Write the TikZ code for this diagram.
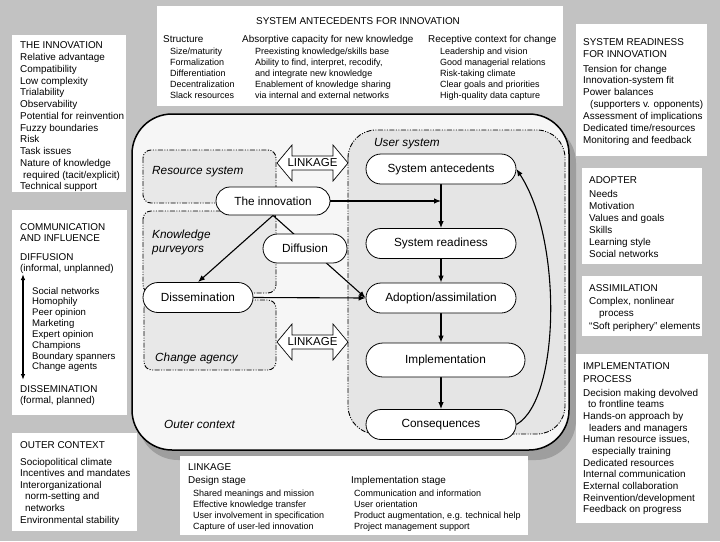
\documentclass[tikz,border=0pt]{standalone}
\usepackage{fontspec}
\setmainfont{Liberation Sans}
\usetikzlibrary{arrows.meta,shapes.misc}
\pgfdeclarelayer{back}
\pgfdeclarelayer{mid}
\pgfsetlayers{back,mid,main}
\definecolor{bgc}{gray}{0.76}
\definecolor{shc}{gray}{0.62}
\definecolor{outc}{gray}{0.965}
\definecolor{usrc}{gray}{0.9}
\definecolor{resc}{gray}{0.91}
\newcommand{\txtlines}[5]{\foreach \t [count=\i] in {#5}{\node[lbl] (#1\i) at (#2,{#3+(\i-1)*#4}) {\t};}}
\newcommand{\linkarrow}[2]{%
 \draw[dbl] (277,#1) -- (292,{#1-18}) -- (292,{#1-7}) -- (333,{#1-7}) -- (333,{#1-18}) -- (348,#1) -- (333,{#1+18}) -- (333,{#1+7}) -- (292,{#1+7}) -- (292,{#1+18}) -- cycle;
 \node[font=\fontsize{11.5}{13}\selectfont, inner sep=0pt] (#2) at (312.5,#1) {LINKAGE};}
\begin{document}
\begin{tikzpicture}[x=1pt,y=-1pt,
  lbl/.style={anchor=base west, inner sep=0pt},
  pill/.style={rounded rectangle, draw, line width=0.8pt, fill=white, minimum height=30pt, minimum width=150pt, inner sep=0pt, font=\fontsize{11.8}{14}\selectfont},
  arr/.style={line width=1.1pt, -{Latex[length=7pt,width=5.5pt]}},
  dashdot/.style={line width=0.9pt, dash pattern=on 5pt off 1.5pt on 1pt off 1.5pt on 1pt off 1.5pt},
  ital/.style={anchor=base west, inner sep=0pt, font=\fontsize{11.8}{14}\selectfont\itshape},
  bigtxt/.style={font=\fontsize{9.9}{11.8}\selectfont},
  smalltxt/.style={font=\fontsize{9}{11}\selectfont},
  dbl/.style={draw, fill=white, line width=0.7pt},
]
\begin{pgfonlayer}{back}
\fill[bgc] (0,0) rectangle (720,541);
% outer context frame
\fill[shc, rounded corners=40pt] (138,123) rectangle (576,460);
\draw[line width=1.5pt, fill=outc, rounded corners=40pt] (132,114) rectangle (569,450);
\draw[dashdot, fill=usrc, rounded corners=28pt] (348,130) rectangle (565,434);
\draw[dashdot, fill=resc, rounded corners=8pt] (143,150) rectangle (276,203);
\draw[dashdot, fill=resc, rounded corners=8pt] (143,211) rectangle (276,293);
\draw[dashdot, fill=resc, rounded corners=8pt] (144,300) rectangle (276,370);
% region labels
\node[ital] (lres) at (152,174) {Resource system};
\node[ital] (lkp1) at (152,238) {Knowledge};
\node[ital] (lkp2) at (152,252) {purveyors};
\node[ital] (lca) at (155,361) {Change agency};
\node[ital] (loc) at (164,428) {Outer context};
\node[ital] (lus) at (374,146) {User system};
\end{pgfonlayer}
\useasboundingbox (0,0) rectangle (720,541);

% process nodes
\node[pill] (sa) at (441,169) {System antecedents};
\node[pill] (sr) at (441,243.5) {System readiness};
\node[pill] (aa) at (441,298) {Adoption/assimilation};
\node[pill, minimum width=159pt, minimum height=34pt] (im) at (445.5,360) {Implementation};
\node[pill] (co) at (441,424.5) {Consequences};
\node[pill, minimum width=114pt, minimum height=28pt] (inn) at (273,201) {The innovation};
\node[pill, minimum width=84pt, minimum height=29pt] (dif) at (305,248.5) {Diffusion};
\node[pill, minimum width=110pt] (dis) at (198,297.5) {Dissemination};

\begin{pgfonlayer}{mid}
\coordinate (jn) at (sa.south |- inn.east);
\draw[arr] (inn.east) -- (jn);
\draw[arr] (sa.south) -- (sr.north);
\draw[arr] (sr.south) -- (aa.north);
\draw[arr] (aa.south) -- (aa.south |- im.north);
\draw[arr] (co.north |- im.south) -- (co.north);
\draw[arr] (inn.south) -- (aa.west);
\draw[arr] (inn.south) -- (dis.north);
\draw[arr] (dis.east) -- (aa.west);
\draw[arr] (co.east) .. controls (560,400) and (563,240) .. (sa.east);
\end{pgfonlayer}

\linkarrow{163}{lk1}
\linkarrow{342}{lk2}

% white boxes
\fill[white] (157,6) rectangle (563,106);
\fill[white] (12,35) rectangle (126,192);
\fill[white] (12,210) rectangle (127,415);
\fill[white] (12,433) rectangle (137,531);
\fill[white] (576,24) rectangle (707,156);
\fill[white] (582,168) rectangle (702,264);
\fill[white] (582,276) rectangle (702,336);
\fill[white] (576,354) rectangle (708,523);
\fill[white] (180,456) rectangle (528,535);

\begin{scope}[bigtxt]
% top box
\node[anchor=base, inner sep=0pt] (tt) at (358,24.5) {SYSTEM ANTECEDENTS FOR INNOVATION};
\node[lbl] (th1) at (163,42.5) {Structure};
\node[lbl] (th2) at (242,42.5) {Absorptive capacity for new knowledge};
\node[lbl] (th3) at (428,42.5) {Receptive context for change};
% innovation box
\node[lbl] (ih) at (20,48) {THE INNOVATION};
\txtlines{inl}{20}{60.5}{11.75}{Relative advantage,Compatibility,Low complexity,Trialability,Observability,Potential for reinvention,Fuzzy boundaries,Risk,Task issues,Nature of knowledge,\hspace*{3pt}required (tacit/explicit),Technical support}
% communication box
\txtlines{cmh}{20}{230.5}{11}{COMMUNICATION,AND INFLUENCE}
\txtlines{dfh}{20}{260.5}{11}{DIFFUSION,{(informal, unplanned)}}
\txtlines{dsh}{20}{392}{11.5}{DISSEMINATION,{(formal, planned)}}
% outer context box
\node[lbl] (oh) at (20,448.5) {OUTER CONTEXT};
\txtlines{ocl}{20}{465}{11.65}{Sociopolitical climate,Incentives and mandates,Interorganizational,\hspace*{5pt}norm-setting and,\hspace*{5pt}networks,Environmental stability}
% system readiness
\txtlines{srh}{583}{45.5}{11.5}{SYSTEM READINESS,FOR INNOVATION}
\txtlines{srl}{583}{72}{11.95}{Tension for change,Innovation-system fit,Power balances,\hspace*{7pt}(supporters v. opponents),Assessment of implications,Dedicated time/resources,Monitoring and feedback}
% adopter
\node[lbl] (adh) at (589,183.5) {ADOPTER};
\txtlines{adl}{589}{197.5}{12.05}{Needs,Motivation,Values and goals,Skills,Learning style,Social networks}
% assimilation
\node[lbl] (ash) at (589,291) {ASSIMILATION};
\txtlines{asl}{589}{304.2}{12.65}{{Complex, nonlinear},\hspace*{10pt}process,“Soft periphery” elements}
% implementation process
\txtlines{iph}{583}{369.5}{12.5}{IMPLEMENTATION,PROCESS}
\txtlines{ipl}{583}{396.2}{11.65}{Decision making devolved,\hspace*{5pt}to frontline teams,Hands-on approach by,\hspace*{6pt}leaders and managers,{Human resource issues,},\hspace*{9pt}especially training,Dedicated resources,Internal communication,External collaboration,Reinvention/development,Feedback on progress}
% linkage box
\node[lbl] (lh) at (188,470.5) {LINKAGE};
\node[lbl] (lds) at (188,483.5) {Design stage};
\node[lbl] (lis) at (351,483.5) {Implementation stage};
\end{scope}

\begin{scope}[smalltxt]
\txtlines{sl}{170}{54.2}{11}{Size/maturity,Formalization,Differentiation,Decentralization,Slack resources}
\txtlines{al}{255}{54.2}{11}{Preexisting knowledge/skills base,{Ability to find, interpret, recodify,},and integrate new knowledge,Enablement of knowledge sharing,via internal and external networks}
\txtlines{rl}{440}{54.2}{11}{Leadership and vision,Good managerial relations,Risk-taking climate,Clear goals and priorities,High-quality data capture}
\txtlines{ldl}{193}{496.5}{10.9}{Shared meanings and mission,Effective knowledge transfer,User involvement in specification,Capture of user-led innovation}
\txtlines{lil}{354}{496.5}{10.9}{Communication and information,User orientation,{Product augmentation, e.g. technical help},Project management support}
\end{scope}
\begin{scope}[font=\fontsize{9.6}{11}\selectfont]
\txtlines{cl}{32}{294}{10.85}{Social networks,Homophily,Peer opinion,Marketing,Expert opinion,Champions,Boundary spanners,Change agents}
\end{scope}

\coordinate (dtop) at (23,274);
\coordinate (dbot) at (23,380);
\draw[line width=1.2pt, {Latex[length=6pt,width=4.5pt]}-{Latex[length=6pt,width=4.5pt]}] (dtop) -- (dbot);
\end{tikzpicture}
\end{document}
